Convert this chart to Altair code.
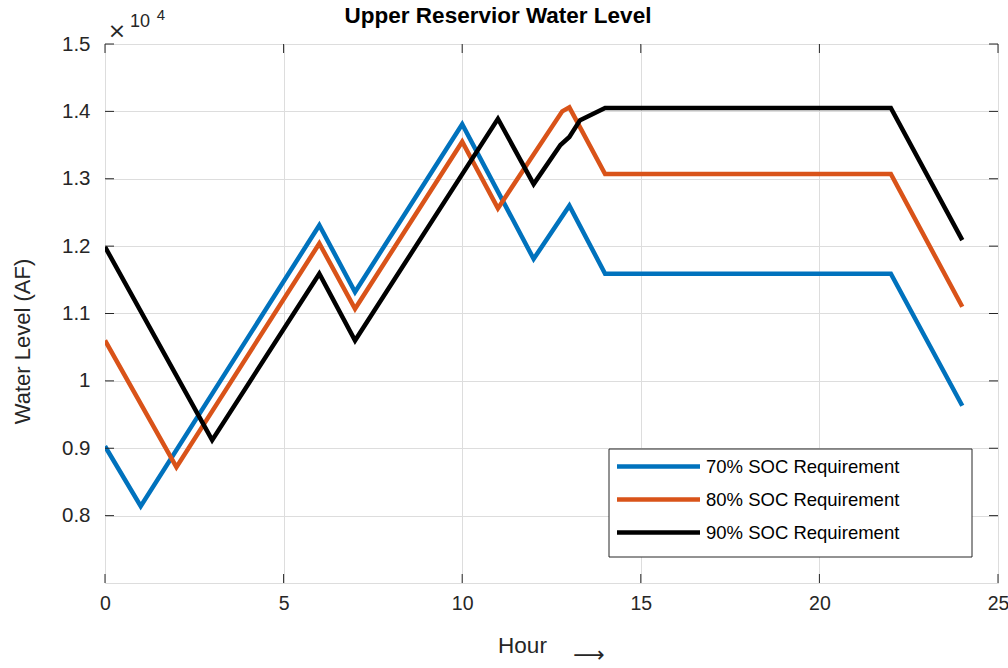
import altair as alt
import pandas as pd

# Reservoir level (x10^4 acre-feet) at each breakpoint hour, per SOC requirement
series_names = ["70% SOC Requirement", "80% SOC Requirement", "90% SOC Requirement"]
series_colors = ["#0072BD", "#D95319", "#000000"]

hours_70 = [0, 1, 6, 7, 10, 12, 13, 14, 22, 24]
level_70 = [0.903, 0.814, 1.231, 1.132, 1.381, 1.181, 1.260, 1.159, 1.159, 0.963]

hours_80 = [0, 2, 6, 7, 10, 11, 12.8, 13, 14, 22, 24]
level_80 = [1.060, 0.872, 1.204, 1.107, 1.355, 1.256, 1.400, 1.406, 1.307, 1.307, 1.110]

hours_90 = [0, 3, 6, 7, 11, 12, 12.75, 13, 13.3, 14, 22, 24]
level_90 = [1.199, 0.912, 1.159, 1.060, 1.389, 1.292, 1.350, 1.362, 1.387, 1.405, 1.405, 1.209]

x_ticks = [0, 5, 10, 15, 20, 25]
y_ticks = [0.8, 0.9, 1.0, 1.1, 1.2, 1.3, 1.4, 1.5]

W, H = 893, 539
FONT = "Liberation Sans"
AXC = "#262626"
TICK = 9
LW = 4.5

rows = []
for name, hs, vs in [(series_names[0], hours_70, level_70),
                     (series_names[1], hours_80, level_80),
                     (series_names[2], hours_90, level_90)]:
    for i, (h, v) in enumerate(zip(hs, vs)):
        rows.append({"series": name, "hour": h, "level": v, "order": i})
df = pd.DataFrame(rows)

x_scale = alt.Scale(domain=[0, 25], nice=False, zero=False)
y_scale = alt.Scale(domain=[0.7, 1.5], nice=False, zero=False)

x_axis = alt.Axis(values=x_ticks, grid=True, ticks=False, domain=False,
                  labelPadding=11, labelFontSize=19.5, labelFont=FONT,
                  labelColor=AXC, title="Hour", titleFont=FONT,
                  titleFontSize=22.5, titleFontWeight="normal", titleColor=AXC,
                  titleX=417, titleY=62, titleAlign="center",
                  titleBaseline="middle", labelFlush=False)
y_axis = alt.Axis(values=y_ticks, grid=True, ticks=False, domain=False,
                  labelPadding=15, labelFontSize=20.5, labelFont=FONT,
                  labelColor=AXC, title="Water Level (AF)", titleFont=FONT,
                  titleFontSize=22, titleFontWeight="normal", titleColor=AXC,
                  titleX=-83, titleY=297, titleAlign="center",
                  titleBaseline="middle", titleAngle=270,
                  labelExpr="datum.value == 1 ? '1' : format(datum.value, '.1f')",
                  labelFlush=False)

lines = alt.Chart(df).mark_line(strokeWidth=LW, clip=True, strokeCap="butt").encode(
    x=alt.X("hour:Q", scale=x_scale, axis=x_axis),
    y=alt.Y("level:Q", scale=y_scale, axis=y_axis),
    color=alt.Color("series:N",
                    scale=alt.Scale(domain=series_names, range=series_colors),
                    legend=None),
    order="order:Q",
)

xt = pd.DataFrame({"hour": x_ticks})
yt = pd.DataFrame({"level": y_ticks})

# inward tick marks on all four sides of the box
tick_bottom = alt.Chart(xt).mark_rule(color=AXC, strokeWidth=1).encode(
    x=alt.X("hour:Q", scale=x_scale, axis=x_axis), y=alt.value(H), y2=alt.value(H - TICK))
tick_top = alt.Chart(xt).mark_rule(color=AXC, strokeWidth=1).encode(
    x=alt.X("hour:Q", scale=x_scale, axis=x_axis), y=alt.value(0), y2=alt.value(TICK))
tick_left = alt.Chart(yt).mark_rule(color=AXC, strokeWidth=1).encode(
    y=alt.Y("level:Q", scale=y_scale, axis=y_axis), x=alt.value(0), x2=alt.value(TICK))
tick_right = alt.Chart(yt).mark_rule(color=AXC, strokeWidth=1).encode(
    y=alt.Y("level:Q", scale=y_scale, axis=y_axis), x=alt.value(W), x2=alt.value(W - TICK))

one = pd.DataFrame({"k": [0]})


def label(text, x, y, size, font=FONT, color=AXC, weight="normal", align="center"):
    return alt.Chart(pd.DataFrame({"t": [text]})).mark_text(
        font=font, fontSize=size, color=color, align=align, baseline="middle",
        fontWeight=weight,
    ).encode(x=alt.value(x), y=alt.value(y), text="t:N")


# chart title, exponent annotation above the y axis, arrow after the x title
title_mark = label("Upper Reservior Water Level", 393, -28, 22.5, color="#000000",
                   weight="bold")
times_mark = label("\u00d7", 12, -13, 22, font="DejaVu Sans")
ten_mark = label("10", 35, -22, 18)
four_mark = label("4", 56, -29, 15)
arrow_mark = label("\u27f6", 484, 611, 22, font="DejaVu Sans")

# legend box
LX0, LX1, LY0, LY1 = 504, 867, 405, 513
legend_box = alt.Chart(one).mark_rect(fill="#ffffff", stroke=AXC, strokeWidth=1).encode(
    x=alt.value(LX0), x2=alt.value(LX1), y=alt.value(LY0), y2=alt.value(LY1))
legend_layers = []
for i, (name, col) in enumerate(zip(series_names, series_colors)):
    ly = 422.5 + 33 * i
    legend_layers.append(
        alt.Chart(one).mark_rule(color=col, strokeWidth=LW).encode(
            x=alt.value(512), x2=alt.value(595), y=alt.value(ly)))
    legend_layers.append(
        label(name, 601, ly, 18.5, color="#000000", align="left"))

chart = alt.layer(
    lines, tick_bottom, tick_top, tick_left, tick_right,
    title_mark, times_mark, ten_mark, four_mark, arrow_mark,
    legend_box, *legend_layers,
).properties(
    width=W, height=H,
    autosize=alt.AutoSizeParams(type="none"),
    padding={"left": 105, "top": 44, "right": 10, "bottom": 85},
).configure_view(
    stroke=AXC, strokeWidth=1,
).configure_axis(
    gridColor="#dfdfdf", gridWidth=1,
).configure(background="#ffffff")

chart.save("out.html", embed_options={"renderer": "svg", "actions": False})
